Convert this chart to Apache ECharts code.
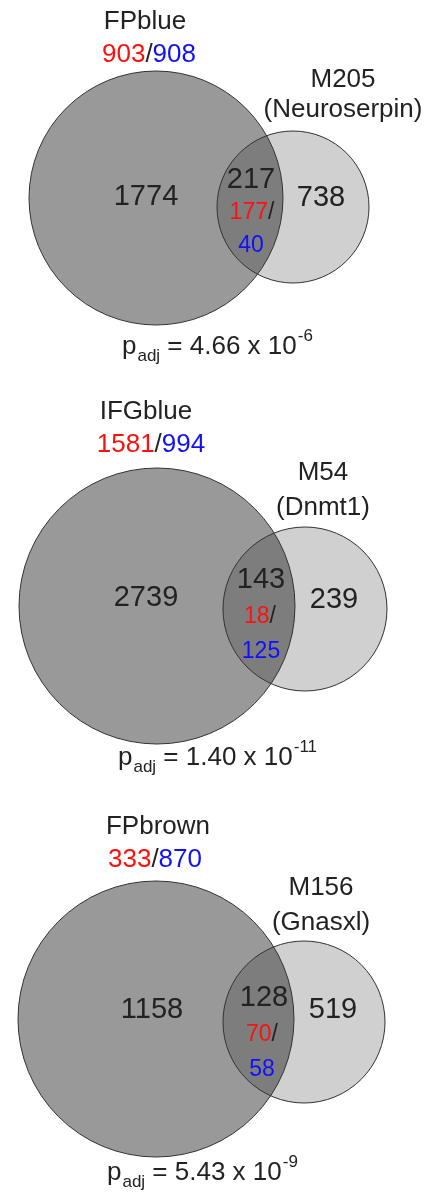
<!DOCTYPE html>
<html><head><meta charset="utf-8">
<script src="https://cdn.jsdelivr.net/npm/echarts@6/dist/echarts.min.js"></script>
<style>html,body{margin:0;padding:0;background:#fff}#c{width:431px;height:1192px}</style>
</head><body><div id="c"></div>
<script>
// ---- data ----
const setNames = ['FPblue', 'IFGblue', 'FPbrown'];
const setUp = [903, 1581, 333];
const setDown = [908, 994, 870];
const moduleNames = ['M205', 'M54', 'M156'];
const moduleGenes = ['Neuroserpin', 'Dnmt1', 'Gnasxl'];
const setOnly = [1774, 2739, 1158];
const overlapTotal = [217, 143, 128];
const overlapUp = [177, 18, 70];
const overlapDown = [40, 125, 58];
const moduleOnly = [738, 239, 519];
const pMantissa = ['4.66', '1.40', '5.43'];
const pExponent = ['-6', '-11', '-9'];

// ---- layout (coordinates on hidden pixel-scaled axes) ----
const LAYOUT = [
  {big:[156,198,127], small:[293,207,76], setLabel:[145,22], setCounts:[149,55], modLabel:[343,80], modGene:[343,110],
   setOnly:[146,197], modOnly:[321,198], ovTotal:[251,180], ovUD:[252,213], ovDown:[251,246], p:[122,347]},
  {big:[157,606,138], small:[305,609,82], setLabel:[146,412], setCounts:[151,445], modLabel:[323,473], modGene:[323,508],
   setOnly:[146,598], modOnly:[334,600], ovTotal:[261,580], ovUD:[260,617], ovDown:[261,652], p:[118,758]},
  {big:[156,1019,138], small:[304,1022,81], setLabel:[158,827], setCounts:[155,860], modLabel:[321,888], modGene:[321,923],
   setOnly:[152,1010], modOnly:[333,1010], ovTotal:[264,998], ovUD:[262,1035], ovDown:[262,1070], p:[107,1173]}
];
const FONT = 'Liberation Sans, Arial, sans-serif';
const TXT = '#222';
const RED = '#ff1010';
const BLUE = '#1010ff';

const mctx = document.createElement('canvas').getContext('2d');
function measure(t, size) { mctx.font = size + 'px ' + FONT; return mctx.measureText(t).width; }

function txt(p, text, size, extra) {
  return Object.assign({
    type: 'text', x: p[0], y: p[1],
    style: Object.assign({text: text, fontSize: size, fontFamily: FONT, fill: TXT, align: 'center', verticalAlign: 'middle'}, extra || {})
  });
}

function renderItem(params, api) {
  const i = params.dataIndex;
  const L = LAYOUT[i];
  const pt = a => api.coord([a[0], a[1]]);
  const rad = r => api.size([r, 0])[0];
  const bc = pt(L.big), sc = pt(L.small);
  const br = rad(L.big[2]), sr = rad(L.small[2]);
  const ch = [
    {type:'circle', shape:{cx:sc[0], cy:sc[1], r:sr}, style:{fill:'#d0d0d0'}},
    {type:'circle', shape:{cx:bc[0], cy:bc[1], r:br}, style:{fill:'rgba(0,0,0,0.4)'}},
    {type:'circle', shape:{cx:sc[0], cy:sc[1], r:sr}, style:{fill:null, stroke:'#333', lineWidth:1}},
    {type:'circle', shape:{cx:bc[0], cy:bc[1], r:br}, style:{fill:null, stroke:'#333', lineWidth:1}}
  ];
  ch.push(txt(pt(L.setLabel), setNames[i], 26));
  ch.push(txt(pt(L.setCounts), '{r|' + setUp[i] + '}{k|/}{b|' + setDown[i] + '}', 26,
    {rich: {r:{fill:RED, fontSize:26, fontFamily:FONT}, k:{fill:TXT, fontSize:26, fontFamily:FONT}, b:{fill:BLUE, fontSize:26, fontFamily:FONT}}}));
  ch.push(txt(pt(L.modLabel), moduleNames[i], 26));
  ch.push(txt(pt(L.modGene), '(' + moduleGenes[i] + ')', 26));
  ch.push(txt(pt(L.setOnly), String(setOnly[i]), 29));
  ch.push(txt(pt(L.modOnly), String(moduleOnly[i]), 29));
  ch.push(txt(pt(L.ovTotal), String(overlapTotal[i]), 29));
  ch.push(txt(pt(L.ovUD), '{r|' + overlapUp[i] + '}{k|/}', 23,
    {rich: {r:{fill:RED, fontSize:23, fontFamily:FONT}, k:{fill:TXT, fontSize:23, fontFamily:FONT}}}));
  ch.push(txt(pt(L.ovDown), String(overlapDown[i]), 23, {fill: BLUE}));
  // p_adj line
  const p0 = pt(L.p);
  let x = p0[0];
  const y = p0[1];
  const left = {align:'left'};
  ch.push(txt([x, y], 'p', 26, left)); x += measure('p', 26) + 1;
  ch.push(txt([x, y + 9], 'adj', 17, left)); x += measure('adj', 17);
  const main = ' = ' + pMantissa[i] + ' x 10';
  ch.push(txt([x, y], main, 26, left)); x += measure(main, 26) + 1;
  ch.push(txt([x, y - 11], pExponent[i], 17, left));
  return {type:'group', children: ch};
}

const chart = echarts.init(document.getElementById('c'), null, {renderer: 'canvas'});
chart.setOption({
  backgroundColor: '#fff',
  animation: false,
  grid: {left: 0, right: 0, top: 0, bottom: 0},
  xAxis: {type: 'value', min: 0, max: 431, show: false},
  yAxis: {type: 'value', min: 0, max: 1192, inverse: true, show: false},
  series: [{
    type: 'custom',
    clip: false,
    renderItem: renderItem,
    data: setNames.map((n, i) => [i])
  }]
});
</script>
</body></html>
